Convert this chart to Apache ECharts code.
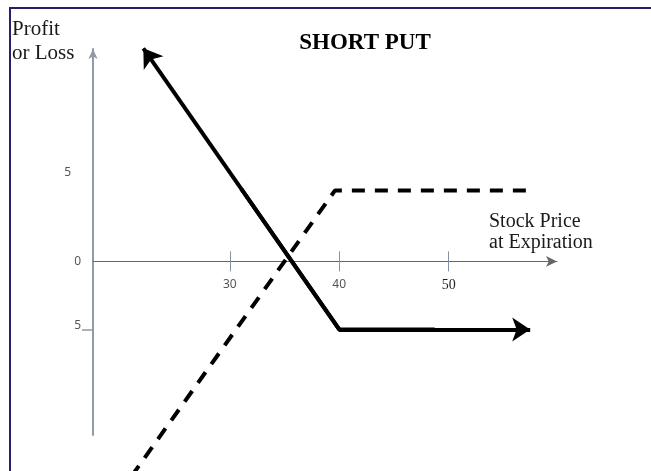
<!DOCTYPE html>
<html>
<head>
<meta charset="utf-8">
<script src="https://cdn.jsdelivr.net/npm/echarts@6/dist/echarts.min.js"></script>
<style>
  html, body { margin: 0; padding: 0; background: #fff; }
  #frame { position: absolute; left: 9px; top: 7px; width: 642px; height: 464px;
           border-top: 2px solid #25206e; border-left: 2px solid #25206e; box-sizing: border-box; }
  #chart { position: absolute; left: 0; top: 0; width: 651px; height: 471px; }
</style>
</head>
<body>
<div id="frame"></div>
<div id="chart"></div>
<script>
// ---- data ----
const xTicks = [30, 40, 50];
const yLabelValues = [6.5, 0, -4.7];
const yLabelTexts = ['5', '0', '5'];
const yTicks = [-5];
// solid line (with arrow heads): corner at index 1
const solidX = [22.1, 40, 57.45];
const solidY = [15.65, -5, -5];
// dashed line
const dashX = [21.0, 39.6, 57.4];
const dashY = [-15.8, 5.2, 5.2];

const chart = echarts.init(document.getElementById('chart'), null, { renderer: 'canvas' });

// two arrowed segments leaving the corner
const solidSegments = [
  { coords: [[solidX[1], solidY[1]], [solidX[0], solidY[0]]] },
  { coords: [[solidX[1], solidY[1]], [solidX[2], solidY[2]]] }
];
// short polyline around the corner so the joint is mitred
const cornerPath = [
  [(solidX[0] + solidX[1]) / 2, (solidY[0] + solidY[1]) / 2],
  [solidX[1], solidY[1]],
  [(solidX[1] + solidX[2]) / 2, (solidY[1] + solidY[2]) / 2]
];
const dashData = dashX.map((x, i) => [x, dashY[i]]);

const sans = '"Noto Sans", "DejaVu Sans", sans-serif';
const serif = '"Liberation Serif", "DejaVu Serif", serif';
const gridBottom = 36;
const X_MIN = 17.5, X_MAX = 59.9;

function xAxisDef(offset) {
  return [
    {
      type: 'value', min: X_MIN, max: X_MAX, position: 'bottom', offset: offset,
      axisLine: { show: true, onZero: false, symbol: ['none', 'arrow'], symbolSize: [8, 11],
                  lineStyle: { color: '#666', width: 1 } },
      axisTick: { show: true, customValues: xTicks, length: 10, lineStyle: { color: '#8393a3', width: 1 } },
      axisLabel: { show: true, customValues: xTicks, margin: 17, fontFamily: sans, fontSize: 12, color: '#555',
                   formatter: v => (v === 50 ? '{s|' + v + '}' : String(v)),
                   rich: { s: { fontFamily: serif, fontSize: 14, color: '#222' } } },
      splitLine: { show: false }
    },
    {
      type: 'value', min: X_MIN, max: X_MAX, position: 'bottom', offset: offset,
      axisLine: { show: false, onZero: false },
      axisTick: { show: true, inside: true, customValues: xTicks, length: 10, lineStyle: { color: '#8393a3', width: 1 } },
      axisLabel: { show: false },
      splitLine: { show: false }
    }
  ];
}

chart.setOption({
  animation: false,
  backgroundColor: 'transparent',
  title: [
    { text: 'SHORT PUT', left: 365, top: 32, padding: 0, textAlign: 'center',
      textStyle: { fontFamily: serif, fontWeight: 'bold', fontSize: 23, color: '#000' } },
    { text: 'Profit\nor Loss', left: 12, top: 17, padding: 0,
      textStyle: { fontFamily: serif, fontWeight: 'normal', fontSize: 21, lineHeight: 24, color: '#1a1a1a' } },
    { text: 'Stock Price\nat Expiration', left: 489, top: 211, padding: 0,
      textStyle: { fontFamily: serif, fontWeight: 'normal', fontSize: 20, lineHeight: 21, color: '#1a1a1a' } }
  ],
  grid: { left: 93, top: 49, right: 94, bottom: gridBottom, containLabel: false, outerBoundsMode: 'none' },
  xAxis: xAxisDef(0),
  yAxis: {
    type: 'value', min: -12.75, max: 15.6,
    axisLine: { show: true, onZero: false, symbol: ['none', 'arrow'], symbolSize: [7, 10],
                lineStyle: { color: '#8f9ca8', width: 2 } },
    axisTick: { show: true, customValues: yTicks, length: 11, lineStyle: { color: '#8e9aa4', width: 1.5 } },
    axisLabel: { show: true, customValues: yLabelValues, margin: 12, fontFamily: sans, fontSize: 12, color: '#555',
                 formatter: v => {
                   const i = yLabelValues.indexOf(v);
                   const t = i >= 0 ? yLabelTexts[i] : '';
                   return v > 0 ? '{far|' + t + '}' : t;
                 },
                 rich: { far: { fontFamily: sans, fontSize: 12, color: '#555', padding: [0, 10, 0, 0] } } },
    splitLine: { show: false }
  },
  series: [
    {
      type: 'line', data: dashData, symbol: 'none', clip: false, z: 3, silent: true,
      lineStyle: { color: '#000', width: 4, type: [13, 10] }
    },
    {
      type: 'lines', coordinateSystem: 'cartesian2d', data: solidSegments, clip: false, z: 4, silent: true,
      symbol: ['none', 'arrow'], symbolSize: 18,
      lineStyle: { color: '#000', width: 4, opacity: 1, cap: 'butt', join: 'miter', curveness: 0 }
    },
    {
      type: 'line', data: cornerPath, symbol: 'none', showSymbol: false, clip: false, z: 4, silent: true,
      lineStyle: { color: '#000', width: 4, cap: 'butt', join: 'miter' }
    }
  ]
});

// place the x axis on y = 0 using the library's own y scale
const zeroY = chart.convertToPixel({ yAxisIndex: 0 }, 0);
const bottomY = chart.getHeight() - gridBottom;
chart.setOption({ xAxis: xAxisDef(-(bottomY - zeroY)) });
</script>
</body>
</html>
